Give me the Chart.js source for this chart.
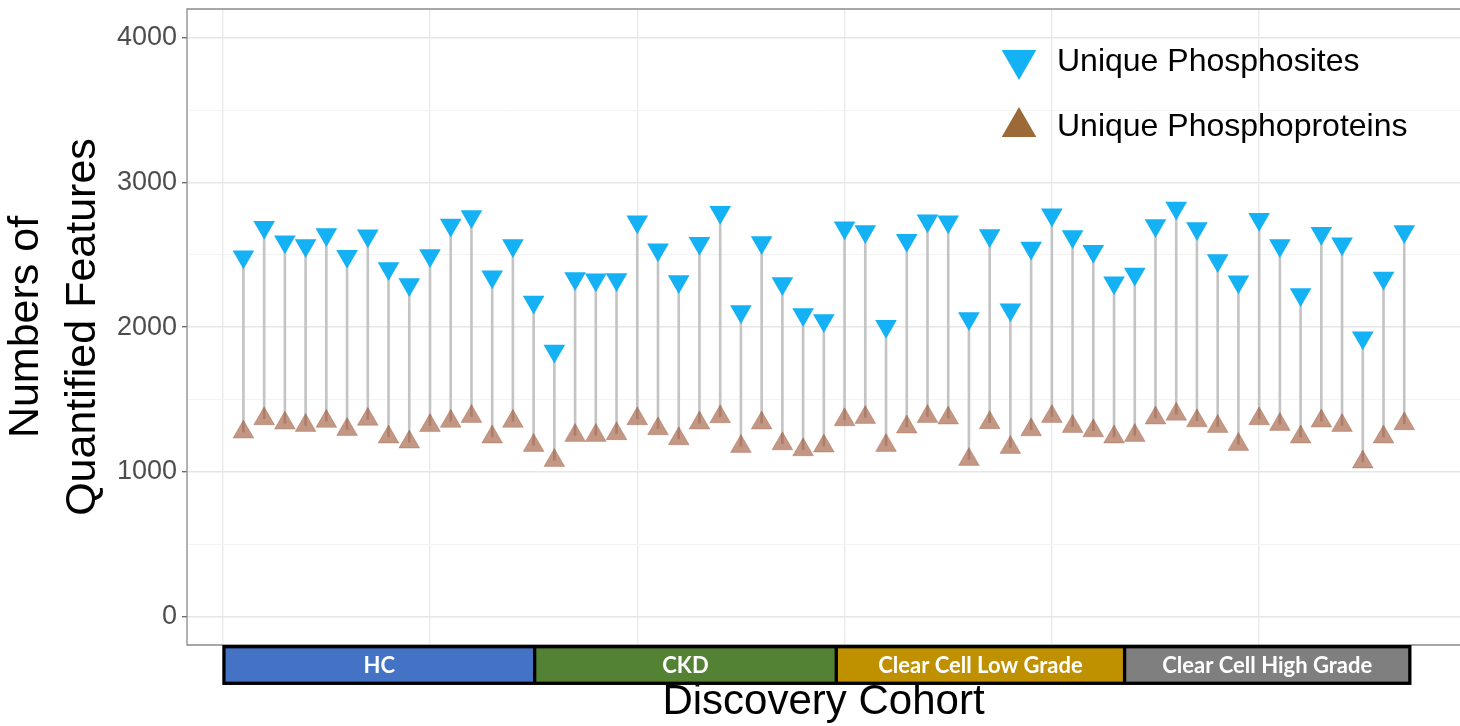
<!DOCTYPE html>
<html>
<head>
<meta charset="utf-8">
<script src="https://cdn.jsdelivr.net/npm/chart.js@4/dist/chart.umd.min.js"></script>
<style>
  html, body { margin: 0; padding: 0; background: #fff; overflow: hidden; }
  canvas { display: block; }
</style>
</head>
<body>
<canvas id="chart" width="1460" height="726"></canvas>
<script>
'use strict';
// ── Data ───────────────────────────────────────────────────────────────────
const phosphosites = [
  2486, 2691, 2590, 2564, 2640, 2490, 2631, 2405, 2295, 2495, 2705, 2765, 2348, 2564,
  2173, 1836, 2336, 2327, 2330, 2728, 2534, 2315, 2580, 2794, 2108, 2585, 2302, 2088,
  2046, 2686, 2661, 2007, 2601, 2735, 2728, 2060, 2633, 2120, 2546, 2776, 2626, 2525,
  2306, 2368, 2702, 2824, 2682, 2461, 2313, 2746, 2564, 2226, 2649, 2576, 1926, 2339, 2661
];
const phosphoproteins = [
  1275, 1367, 1337, 1321, 1349, 1293, 1363, 1241, 1206, 1320, 1349, 1383, 1241, 1349,
  1183, 1079, 1252, 1252, 1264, 1367, 1298, 1229, 1337, 1381, 1176, 1337, 1194, 1153,
  1178, 1360, 1376, 1183, 1310, 1383, 1372, 1086, 1340, 1169, 1291, 1383, 1314, 1284,
  1241, 1252, 1372, 1399, 1353, 1314, 1190, 1367, 1328, 1241, 1351, 1321, 1068, 1241, 1333
];
const samples = phosphosites.map((_, i) => i + 1);   // sample index 1..57

const seriesNames = ['Unique Phosphosites', 'Unique Phosphoproteins'];
const cohorts     = ['HC', 'CKD', 'Clear Cell Low Grade', 'Clear Cell High Grade'];

const yTicks = [0, 500, 1000, 1500, 2000, 2500, 3000, 3500, 4000];
const xTicks = [0, 10, 20, 30, 40, 50];

// ── Layout / style ─────────────────────────────────────────────────────────
const FONT   = "'Liberation Sans', Arial, sans-serif";
const BLUE   = '#14b1f4';
const BROWN  = '#9c6a38';
const COHORT_COLORS = ['#4472c4', '#548235', '#bf9000', '#7f7f7f'];
const COHORT_EDGES  = [0.06, 15.05, 29.6, 43.51, 57.27];   // x-units of the group band

const isMajor = v => v % 1000 === 0;

function tri(ctx, x, y, r, down) {
    const s = down ? -1 : 1;
    const h = Math.sqrt(3) / 2 * r;
    ctx.beginPath();
    ctx.moveTo(x, y - s * r);
    ctx.lineTo(x + h, y + s * r / 2);
    ctx.lineTo(x - h, y + s * r / 2);
    ctx.closePath();
    ctx.fill();
}

// ── Plugins: panel border, legend, cohort band ────────────────────────────
// panel runs past the right edge of the image, so no right-hand border
const panelBorder = {
    id: 'panelBorder',
    afterDatasetsDraw(chart) {
        const { ctx, chartArea: a } = chart;
        ctx.save();
        ctx.strokeStyle = '#8a8a8a';
        ctx.lineWidth = 1.3;
        ctx.beginPath();
        ctx.moveTo(chart.width, a.top);
        ctx.lineTo(a.left, a.top);
        ctx.lineTo(a.left, a.bottom);
        ctx.lineTo(chart.width, a.bottom);
        ctx.stroke();
        ctx.restore();
    }
};

const insideLegend = {
    id: 'insideLegend',
    afterDraw(chart) {
        const ctx = chart.ctx;
        ctx.save();
        ctx.fillStyle = BLUE;  tri(ctx, 1019, 60, 20, true);
        ctx.fillStyle = BROWN; tri(ctx, 1019, 127, 20, false);
        ctx.fillStyle = '#000';
        ctx.font = `32px ${FONT}`;
        ctx.textBaseline = 'middle';
        ctx.textAlign = 'left';
        ctx.fillText(seriesNames[0], 1057, 62);
        ctx.fillText(seriesNames[1], 1057, 127);
        ctx.restore();
    }
};

const cohortBand = {
    id: 'cohortBand',
    afterDraw(chart) {
        const { ctx } = chart;
        const xs = chart.scales.x;
        const top = 646.7, bot = 683.3;
        const px = COHORT_EDGES.map(v => xs.getPixelForValue(v));
        ctx.save();
        cohorts.forEach((name, i) => {
            ctx.fillStyle = COHORT_COLORS[i];
            ctx.fillRect(px[i], top, px[i + 1] - px[i], bot - top);
        });
        ctx.strokeStyle = '#000';
        ctx.lineWidth = 3.3;
        ctx.strokeRect(px[0], top, px[px.length - 1] - px[0], bot - top);
        ctx.beginPath();
        for (let i = 1; i < px.length - 1; i++) {
            ctx.moveTo(px[i], top);
            ctx.lineTo(px[i], bot);
        }
        ctx.stroke();
        ctx.fillStyle = '#fff';
        ctx.font = `bold 22px Lato, 'Open Sans', sans-serif`;
        ctx.textAlign = 'center';
        ctx.textBaseline = 'middle';
        cohorts.forEach((name, i) => {
            ctx.fillText(name, (px[i] + px[i + 1]) / 2, (top + bot) / 2 + 1);
        });
        ctx.restore();
    }
};

// ── Chart ──────────────────────────────────────────────────────────────────
new Chart(document.getElementById('chart'), {
    type: 'scatter',
    data: {
        datasets: [
            {
                type: 'bar',
                label: 'stem',
                data: samples.map((s, i) => ({ x: s, y: [phosphoproteins[i], phosphosites[i]] })),
                backgroundColor: '#c4c4c4',
                borderWidth: 0,
                barThickness: 2,
                order: 3
            },
            {
                label: seriesNames[1],
                data: samples.map((s, i) => ({ x: s, y: phosphoproteins[i] })),
                pointStyle: 'triangle',
                rotation: 0,
                pointRadius: 12,
                backgroundColor: 'rgba(152,75,42,0.58)',
                borderColor: 'rgba(140,70,40,0.35)',
                borderWidth: 0.8,
                order: 2
            },
            {
                label: seriesNames[0],
                data: samples.map((s, i) => ({ x: s, y: phosphosites[i] })),
                pointStyle: 'triangle',
                rotation: 180,
                pointRadius: 12.5,
                backgroundColor: BLUE,
                borderWidth: 0,
                order: 1
            }
        ]
    },
    options: {
        responsive: false,
        animation: false,
        events: [],
        layout: { autoPadding: false, padding: { left: 0, top: 9, right: 0, bottom: 0 } },
        plugins: { legend: { display: false }, tooltip: { enabled: false } },
        scales: {
            x: {
                type: 'linear',
                min: -1.722,
                max: 59.69,
                offset: false,
                afterBuildTicks: s => { s.ticks = xTicks.map(v => ({ value: v })); },
                afterFit: s => { s.height = 81; s.paddingLeft = 0; s.paddingRight = 0; },
                ticks: { display: false },
                grid: { color: '#ebebeb', lineWidth: 1.4, drawTicks: false, offset: false },
                border: { display: false },
                title: {
                    display: true,
                    text: 'Discovery Cohort',
                    color: '#000',
                    font: { family: FONT, size: 42, lineHeight: 1 },
                    padding: { top: 0, bottom: 2.5 }
                }
            },
            y: {
                min: -196,
                max: 4198,
                afterBuildTicks: s => { s.ticks = yTicks.map(v => ({ value: v })); },
                afterFit: s => { s.width = 187; s.paddingTop = 0; s.paddingBottom = 0; },
                ticks: {
                    color: '#4d4d4d',
                    font: { family: FONT, size: 27 },
                    padding: 5,
                    callback: v => isMajor(v) ? String(v) : ''
                },
                grid: {
                    color: c => isMajor(c.tick.value) ? '#e6e6e6' : '#f3f3f3',
                    lineWidth: c => isMajor(c.tick.value) ? 1.4 : 1,
                    tickColor: c => isMajor(c.tick.value) ? '#666' : 'rgba(0,0,0,0)',
                    tickLength: 5,
                    tickWidth: 1.3
                },
                border: { display: false },
                title: {
                    display: true,
                    text: ['Numbers of', 'Quantified Features'],
                    color: '#000',
                    font: { family: FONT, size: 43, lineHeight: 1.326 },
                    padding: { top: -2.5, bottom: 0 }
                }
            }
        }
    },
    plugins: [panelBorder, insideLegend, cohortBand]
});
</script>
</body>
</html>
